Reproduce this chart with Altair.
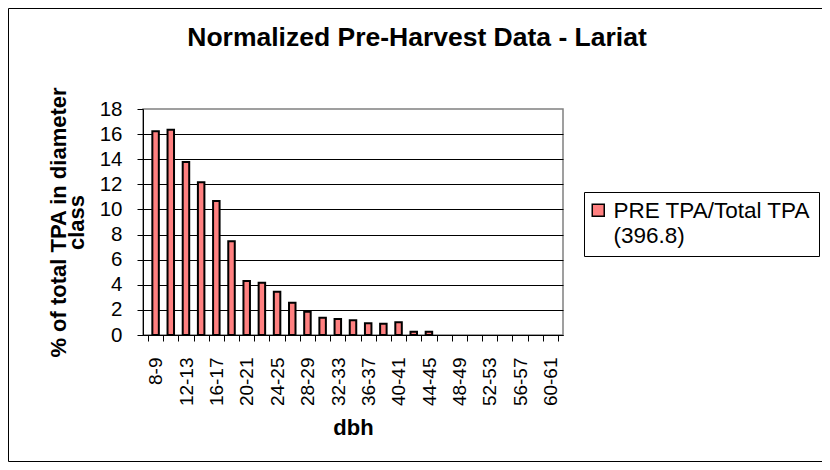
import json
import altair as alt
import pandas as pd

categories = ["8-9", "10-11", "12-13", "14-15", "16-17", "18-19", "20-21", "22-23",
              "24-25", "26-27", "28-29", "30-31", "32-33", "34-35", "36-37", "38-39",
              "40-41", "42-43", "44-45", "46-47", "48-49", "50-51", "52-53", "54-55",
              "56-57", "58-59", "60-61"]
values = [16.22, 16.35, 13.78, 12.16, 10.67, 7.46, 4.30, 4.17, 3.45, 2.57, 1.86, 1.38,
          1.27, 1.17, 0.93, 0.90, 1.01, 0.25, 0.25, 0, 0, 0, 0, 0, 0, 0, 0]
y_ticks = [0, 2, 4, 6, 8, 10, 12, 14, 16, 18]
series_name = "PRE TPA/Total TPA (396.8)"
legend_lines = ["PRE TPA/Total TPA", "(396.8)"]

W, H = 420, 226
n = len(categories)
FONT = "Liberation Sans"

df = pd.DataFrame({"dbh": categories, "value": values, "series": series_name})
df["slot"] = list(range(n))

label_expr = (f"(datum.value % 2 == 0 && datum.value < {n}) ? "
              f"{json.dumps(categories)}[datum.value] : ''")

bars = alt.Chart(df).transform_filter("datum.value > 0").transform_calculate(
    pos="datum.slot + 0.5"
).mark_bar(size=6.5, stroke="black", strokeWidth=2).encode(
    x=alt.X("pos:Q",
            scale=alt.Scale(domain=[0, n], nice=False, zero=True),
            axis=alt.Axis(values=list(range(n + 1)), labelExpr=label_expr,
                          labelAngle=-90, labelOffset=W / n / 2, labelOverlap=False,
                          labelFontSize=19, labelPadding=16, labelColor="black",
                          tickSize=6, tickColor="black", domainColor="black",
                          grid=False, title="dbh", titleFontSize=22,
                          titleFontWeight="bold", titleY=99,
                          titleBaseline="alphabetic", titleColor="black")),
    y=alt.Y("value:Q",
            scale=alt.Scale(domain=[0, 18], nice=False),
            axis=alt.Axis(values=y_ticks, labelFontSize=20.5, labelPadding=15,
                          labelColor="black", tickSize=6, tickColor="black",
                          domainColor="black",
                          gridColor={"condition": {"test": "datum.value >= 18",
                                                   "value": "transparent"},
                                     "value": "black"},
                          gridWidth=1,
                          title=["% of total TPA in diameter", "class"],
                          titleFontSize=22, titleFontWeight="bold",
                          titleX=-78, titleBaseline="alphabetic",
                          titleLineHeight=18, titleColor="black")),
    color=alt.Color("series:N", scale=alt.Scale(range=["#FF8080"]),
                    legend=alt.Legend(title=None, orient="none", legendX=441,
                                      legendY=83, strokeColor="black", padding=8,
                                      fillColor="white", labelFontSize=22.5,
                                      labelColor="black",
                                      labelExpr=json.dumps(legend_lines),
                                      labelLimit=400, labelOffset=4,
                                      labelBaseline="middle",
                                      symbolOffset=-5,
                                      symbolType="M-1,-1.17H1V0.83H-1Z",
                                      symbolSize=144, symbolStrokeColor="black",
                                      symbolStrokeWidth=1.5)),
)

frame = alt.Chart(alt.Data(values=[{"a": 1}])).mark_rect(
    fillOpacity=0, stroke="black", strokeWidth=1
).encode(x=alt.value(-134.5), x2=alt.value(2000), y=alt.value(-100.5),
         y2=alt.value(352.5))

chart = alt.layer(frame, bars).properties(
    width=W, height=H,
    title=alt.TitleParams("Normalized Pre-Harvest Data - Lariat", fontSize=26.5,
                          fontWeight="bold", font=FONT, anchor="middle",
                          frame="group", offset=-64.5, dx=64, baseline="alphabetic",
                          color="black"),
    padding={"left": 135, "top": 101, "right": 259, "bottom": 127},
    autosize=alt.AutoSizeParams(type="none"),
).configure(font=FONT).configure_view(stroke="#808080", strokeWidth=1.5)

chart.save("out.html", embed_options={"renderer": "svg", "actions": False})
